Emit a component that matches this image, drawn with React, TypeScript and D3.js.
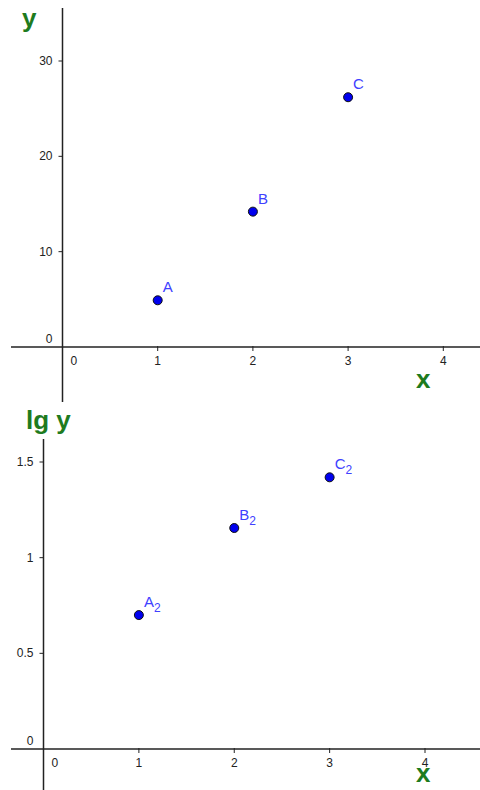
import React from 'react';
import * as d3 from 'd3';

// point data
const pointNames = ['A', 'B', 'C'];
const xValues = [1, 2, 3];
const yValues = [4.9, 14.2, 26.2];
const lgValues = [0.7, 1.155, 1.42];

const xTicks = [0, 1, 2, 3, 4];
const yTicks = [0, 10, 20, 30];
const lgTicks = [0, 0.5, 1, 1.5];

const AXIS_GREEN = '#1e7b1e';
const LABEL_BLUE = '#4040ff';
const FONT = '"Liberation Sans", Arial, sans-serif';

type PanelProps = {
  x: d3.ScaleLinear<number, number>;
  y: d3.ScaleLinear<number, number>;
  yTicks: number[];
  yTop: number;
  yBottom: number;
  yLabel: string;
  yLabelPos: [number, number];
  xLabelPos: [number, number];
  values: number[];
  sub: boolean;
};

const Panel = ({ x, y, yTicks, yTop, yBottom, yLabel, yLabelPos, xLabelPos, values, sub }: PanelProps) => {
  const x0 = x(0);
  const y0 = y(0);
  return (
    <g>
      {/* axes */}
      <line x1={11} x2={480} y1={y0} y2={y0} stroke="#222" strokeWidth={1.5} />
      <line x1={x0} x2={x0} y1={yTop} y2={yBottom} stroke="#222" strokeWidth={1.5} />

      {xTicks.map(t => (
        <g key={'x' + t}>
          {t !== 0 && <line x1={x(t)} x2={x(t)} y1={y0 - 1} y2={y0 + 4} stroke="#222" strokeWidth={1} />}
          <text
            x={t === 0 ? x0 + 8 : x(t)}
            y={y0 + 18}
            textAnchor={t === 0 ? 'start' : 'middle'}
            fontSize={12}
            fill="#222"
            fontFamily={FONT}
          >{t}</text>
        </g>
      ))}

      {yTicks.map(t => (
        <g key={'y' + t}>
          {t !== 0 && <line x1={x0 - 4} x2={x0} y1={y(t)} y2={y(t)} stroke="#222" strokeWidth={1} />}
          <text
            x={x0 - 10}
            y={t === 0 ? y0 - 4 : y(t) + 4}
            textAnchor="end"
            fontSize={12}
            fill="#222"
            fontFamily={FONT}
          >{t}</text>
        </g>
      ))}

      <text x={yLabelPos[0]} y={yLabelPos[1]} fontSize={26} fontWeight="bold" fill={AXIS_GREEN} fontFamily={FONT}>{yLabel}</text>
      <text x={xLabelPos[0]} y={xLabelPos[1]} fontSize={26} fontWeight="bold" fill={AXIS_GREEN} fontFamily={FONT}>x</text>

      {xValues.map((xv, i) => {
        const px = x(xv);
        const py = y(values[i]);
        return (
          <g key={pointNames[i]}>
            <circle cx={px} cy={py} r={4.5} fill="#0000ee" stroke="#111" strokeWidth={1} />
            <text x={px + 5} y={py - 8} fontSize={15} fill={LABEL_BLUE} fontFamily={FONT}>
              {pointNames[i]}
              {sub && <tspan fontSize={12} dy={5}>2</tspan>}
            </text>
          </g>
        );
      })}
    </g>
  );
};

const App = () => {
  const xTop = d3.scaleLinear().domain([0, 4]).range([62.5, 443.3]);
  const yTop = d3.scaleLinear().domain([0, 30]).range([347, 61]);

  const xBot = d3.scaleLinear().domain([0, 4]).range([43.5, 425]);
  const yBot = d3.scaleLinear().domain([0, 1.5]).range([749, 462]);

  return (
    <svg width={480} height={790} style={{ position: 'absolute', left: 0, top: 0, background: '#fff' }}>
      <Panel
        x={xTop} y={yTop} yTicks={yTicks}
        yTop={8} yBottom={402}
        yLabel="y" yLabelPos={[22, 27]} xLabelPos={[416, 388]}
        values={yValues} sub={false}
      />
      <Panel
        x={xBot} y={yBot} yTicks={lgTicks}
        yTop={439} yBottom={790}
        yLabel="lg y" yLabelPos={[26, 429]} xLabelPos={[416, 782]}
        values={lgValues} sub={true}
      />
    </svg>
  );
};

export default App;
